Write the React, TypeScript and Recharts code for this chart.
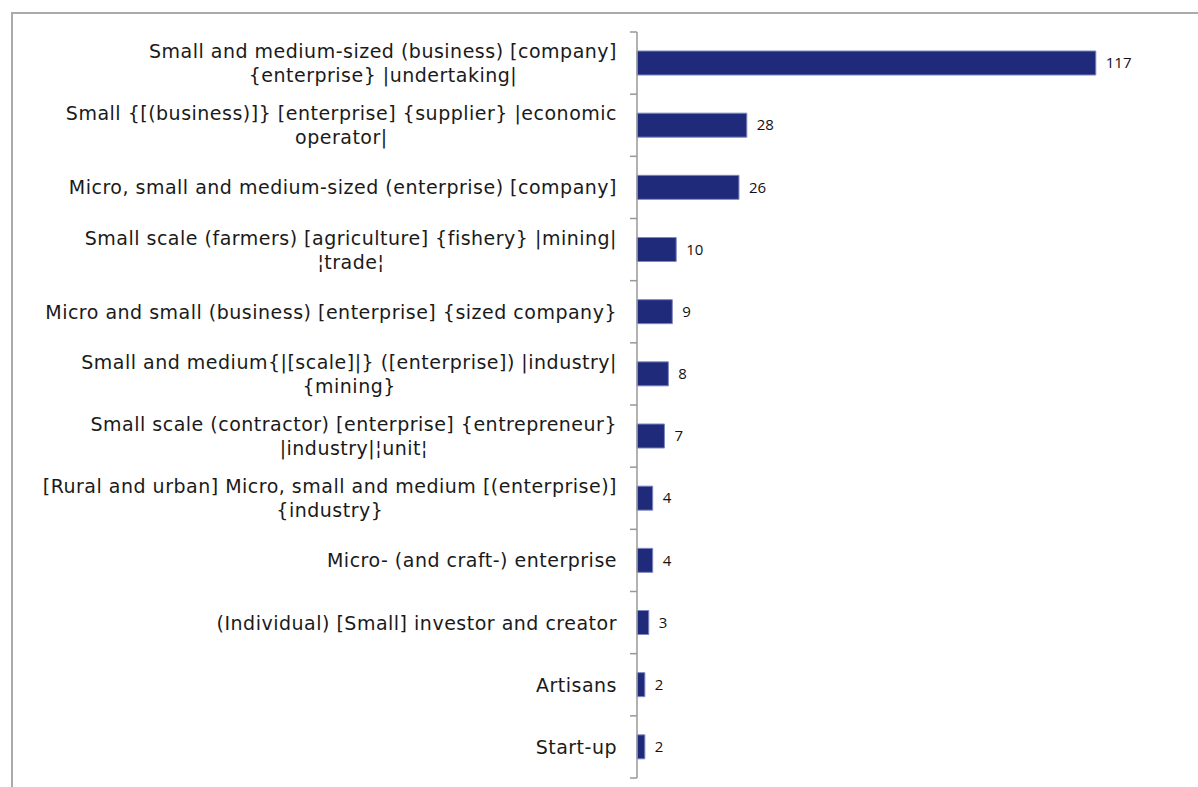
import React from "react";
import { Bar, BarChart, LabelList, XAxis, YAxis } from "recharts";

const categories = [
  "Small and medium-sized (business) [company]\n{enterprise} |undertaking|",
  "Small {[(business)]} [enterprise] {supplier} |economic\noperator|",
  "Micro, small and medium-sized (enterprise) [company]",
  "Small scale (farmers) [agriculture] {fishery} |mining|\n¦trade¦",
  "Micro and small (business) [enterprise] {sized company}",
  "Small and medium{|[scale]|} ([enterprise]) |industry|\n{mining}",
  "Small scale (contractor) [enterprise] {entrepreneur}\n|industry|¦unit¦",
  "[Rural and urban] Micro, small and medium [(enterprise)]\n{industry}",
  "Micro- (and craft-) enterprise",
  "(Individual) [Small] investor and creator",
  "Artisans",
  "Start-up",
];
const counts = [117, 28, 26, 10, 9, 8, 7, 4, 4, 3, 2, 2];

const data = categories.map((name, i) => ({ name, count: counts[i] }));

const W = 1198;
const H = 787;
const margin = { top: 32, right: 12, bottom: 9, left: 0 };
const Y_AXIS_WIDTH = 637;
const AXIS_X = margin.left + Y_AXIS_WIDTH;
const LABEL_FONT = 19;
const LABEL_SPACING = 0.5;

let ctx: CanvasRenderingContext2D | null = null;
function textWidth(s: string) {
  if (!ctx) ctx = document.createElement("canvas").getContext("2d");
  if (!ctx) return s.length * LABEL_FONT * 0.62;
  ctx.font = `${LABEL_FONT}px "DejaVu Sans"`;
  return ctx.measureText(s).width + s.length * LABEL_SPACING;
}

function CategoryTick(props: any) {
  const { y, payload, index, visibleTicksCount } = props;
  const half = payload.offset ?? 0;
  const lines = String(payload.value).split("\n");
  const lh = 24;
  const startY = y - ((lines.length - 1) * lh) / 2;
  const isLast = index === (visibleTicksCount ?? categories.length) - 1;
  const right = AXIS_X - 20;
  const maxW = Math.max(...lines.map(textWidth));
  const cx = lines.length > 1 ? right - maxW / 2 : right;
  return (
    <g>
      <line x1={AXIS_X - 7} x2={AXIS_X} y1={y - half} y2={y - half} stroke="#999" strokeWidth={1.5} />
      {isLast && (
        <line x1={AXIS_X - 7} x2={AXIS_X} y1={y + half} y2={y + half} stroke="#999" strokeWidth={1.5} />
      )}
      <text
        x={cx}
        y={startY}
        textAnchor={lines.length > 1 ? "middle" : "end"}
        dominantBaseline="central"
        fontFamily="DejaVu Sans"
        fontSize={LABEL_FONT}
        letterSpacing={LABEL_SPACING}
        fill="#1a1a1a"
      >
        {lines.map((l, i) => (
          <tspan key={i} x={cx} dy={i === 0 ? 0 : lh}>
            {l}
          </tspan>
        ))}
      </text>
    </g>
  );
}

export default function App() {
  return (
    <div style={{ position: "absolute", left: 0, top: 0, width: W, height: H, background: "#fff", overflow: "hidden" }}>
      <div
        style={{
          position: "absolute",
          left: 11,
          top: 12,
          width: W,
          height: H,
          borderTop: "2px solid #ababab",
          borderLeft: "2px solid #ababab",
        }}
      />
      <div style={{ position: "absolute", left: 0, top: 0 }}>
        <BarChart width={W} height={H} data={data} layout="vertical" margin={margin}>
          <XAxis type="number" domain={[0, 140]} hide />
          <YAxis
            type="category"
            dataKey="name"
            width={Y_AXIS_WIDTH}
            axisLine={{ stroke: "#999", strokeWidth: 1.5 }}
            tickLine={false}
            tickSize={0}
            tick={<CategoryTick />}
            interval={0}
          />
          <Bar dataKey="count" fill="#1f2a7a" stroke="#7d86bf" strokeWidth={1} barSize={24} isAnimationActive={false}>
            <LabelList dataKey="count" position="right" offset={10} fill="#111" fontSize={15} fontFamily="Open Sans" />
          </Bar>
        </BarChart>
      </div>
    </div>
  );
}
